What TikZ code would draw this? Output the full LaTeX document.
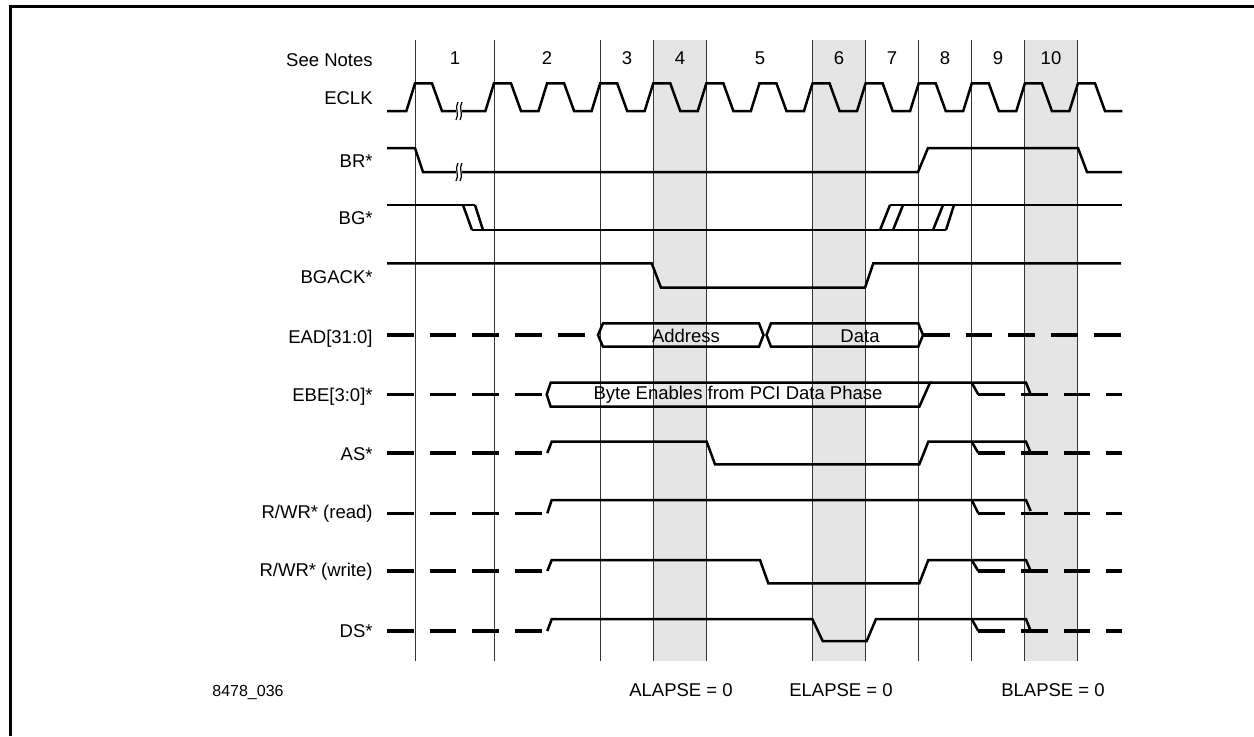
\documentclass[tikz,border=0pt]{standalone}
\usepackage{fontspec}
\setmainfont{Liberation Sans}

% two small S-strokes breaking a long wait
\newcommand{\wavebreak}[2]{%
  \fill[white] ({#1-3},{#2-6}) rectangle ({#1+3},{#2+6});
  \draw[line width=0.6pt] ({#1-1},{#2-9}) .. controls ({#1-5},{#2-3}) and ({#1+1},{#2+3}) .. ({#1-3},{#2+9});
  \draw[line width=0.6pt] ({#1+3},{#2-9}) .. controls ({#1-1},{#2-3}) and ({#1+5},{#2+3}) .. ({#1+1},{#2+9});
}

\begin{document}
\begin{tikzpicture}[
    x=0.5pt, y=-0.5pt,
    every node/.style={font=\fontsize{9.25}{11}\selectfont},
    sig/.style={line width=1.25pt},
    tristate/.style={line width=1.7pt, dash pattern=on 13.35pt off 8pt},
    divider/.style={line width=0.5pt, black!80},
    lapse/.style={fill=black!10},
    signame/.style={anchor=east, inner sep=0pt, text height=6.6pt, text depth=0pt},
    cyc/.style={inner sep=0pt, text height=6.6pt, text depth=0pt}
]
    \useasboundingbox (0,0) rectangle (1254,736);
    \draw[line width=1.3pt] (10.7,736) -- (10.7,6.7) -- (1254,6.7);

    % shaded states and clock dividers
    \fill[lapse] (653.4,40) rectangle (706.5,661);
    \fill[lapse] (812.7,40) rectangle (865.8,661);
    \fill[lapse] (1025.1,40) rectangle (1078.2,661);
    \draw[divider] (415,40) -- (415,661);
    \foreach \k in {0,2,3,4,6,7,8,9,10,11}
        \draw[divider] ({494+53.09*\k},40) -- ({494+53.09*\k},661);

    \node[signame] (notes) at (373,60) {See Notes};
    \node[cyc] (n1) at (455,58) {1};
    \node[cyc] (n2) at (547,58) {2};
    \node[cyc] (n3) at (627,58) {3};
    \node[cyc] (n4) at (680,58) {4};
    \node[cyc] (n5) at (760,58) {5};
    \node[cyc] (n6) at (839,58) {6};
    \node[cyc] (n7) at (892,58) {7};
    \node[cyc] (n8) at (945,58) {8};
    \node[cyc] (n9) at (998,58) {9};
    \node[cyc] (n10) at (1051,58) {10};

    % ECLK
    \node[signame] (eclk) at (373,98) {ECLK};
    \draw[sig] (387,111) -- (406.4,111) -- (415,83.3) -- (432,83.3) -- (442,111) -- (485.4,111)
        \foreach \k in {0,...,11} {-- ({494+53.09*\k},83.3) -- ({511+53.09*\k},83.3) -- ({521+53.09*\k},111) -- ({538.5+53.09*\k},111)};
    \wavebreak{459}{111}

    % BR*
    \node[signame] (br) at (373,161) {BR*};
    \draw[sig] (387,148) -- (415,148) -- (423,172) -- (918,172) -- (928,148) -- (1078,148) -- (1087,172) -- (1122,172);
    \wavebreak{459}{172}

    % BG*
    \node[signame] (bg) at (373,218) {BG*};
    \draw[sig] (387,205) -- (475,205);
    \draw[sig] (463,205) -- (472,230);
    \draw[sig] (475,205) -- (483,230);
    \draw[sig] (472,230) -- (946,230);
    \draw[sig] (880,230) -- (890,205);
    \draw[sig] (893,230) -- (903,205);
    \draw[sig] (933,230) -- (943,205);
    \draw[sig] (946,230) -- (954,205);
    \draw[sig] (890,205) -- (1122,205);

    % BGACK*
    \node[signame] (bgack) at (373,277) {BGACK*};
    \draw[sig] (387,263.3) -- (651.7,263.3) -- (661,287.7) -- (865,287.7) -- (873.3,263.3) -- (1121,263.3);

    % EAD[31:0]
    \node[signame] (ead) at (373,337) {EAD[31:0]};
    \draw[tristate] (387,335) -- (585,335);
    \draw[sig] (598,335) -- (603,323.3) -- (759,323.3) -- (763.5,335) -- (759,346.7) -- (603,346.7) -- cycle;
    \draw[sig] (766.5,335) -- (771,323.3) -- (918.3,323.3) -- (923,335) -- (918.3,346.7) -- (771,346.7) -- cycle;
    \draw[tristate] (923,335) -- (1122,335);
    \node (addr) at (686,336) {Address};
    \node (data) at (860,336) {Data};

    % EBE[3:0]*
    \node[signame] (ebe) at (373,395) {EBE[3:0]*};
    \draw[tristate] (387,394.5) -- (542,394.5);
    \draw[sig] (930,382.7) -- (550.7,382.7) -- (546.7,394.5) -- (550.7,406.7) -- (919.3,406.7) -- cycle;
    \draw[sig] (930,382.7) -- (1026,382.7) -- (1030.7,394.5);
    \draw[sig] (971.7,382.7) -- (978.3,394.5);
    \draw[tristate] (978.3,394.5) -- (1122,394.5);
    \node (bytes) at (738,395) {Byte Enables from PCI Data Phase};

    % AS*
    \node[signame] (as) at (373,454) {AS*};
    \draw[tristate] (387,453) -- (542,453);
    \draw[sig] (547.3,453) -- (551.7,441.7) -- (706.7,441.7) -- (715,464.3) -- (919.3,464.3) -- (928.3,441.7) -- (1026,441.7) -- (1030.7,453);
    \draw[sig] (971.7,441.7) -- (978.3,453);
    \draw[tristate] (978.3,453) -- (1122,453);

    % R/WR* (read)
    \node[signame] (rdread) at (373,512) {R/WR* (read)};
    \draw[tristate] (387,513.3) -- (542,513.3);
    \draw[sig] (547.3,513.3) -- (551.7,500) -- (1026,500) -- (1030.7,511);
    \draw[sig] (971.7,500) -- (978.3,513.3);
    \draw[tristate] (978.3,513.3) -- (1122,513.3);

    % R/WR* (write)
    \node[signame] (rdwrite) at (373,570) {R/WR* (write)};
    \draw[tristate] (387,571) -- (542,571);
    \draw[sig] (547.3,571) -- (551.7,560) -- (760,560) -- (768.3,583.3) -- (919.3,583.3) -- (928.3,560) -- (1026,560) -- (1030.7,571);
    \draw[sig] (971.7,560) -- (978.3,571);
    \draw[tristate] (978.3,571) -- (1122,571);

    % DS*
    \node[signame] (ds) at (373,631) {DS*};
    \draw[tristate] (387,631) -- (542,631);
    \draw[sig] (547.3,631) -- (551.7,619) -- (812.3,619) -- (822.7,641) -- (866.7,641) -- (876,619) -- (1026,619) -- (1030.7,631);
    \draw[sig] (971.7,619) -- (978.3,631);
    \draw[tristate] (978.3,631) -- (1122,631);

    \node[font=\fontsize{8}{10}\selectfont] (fignum) at (248,692) {8478\_036};
    \node (alapse) at (681,690) {ALAPSE = 0};
    \node (elapse) at (841,690) {ELAPSE = 0};
    \node (blapse) at (1053,690) {BLAPSE = 0};
\end{tikzpicture}
\end{document}
